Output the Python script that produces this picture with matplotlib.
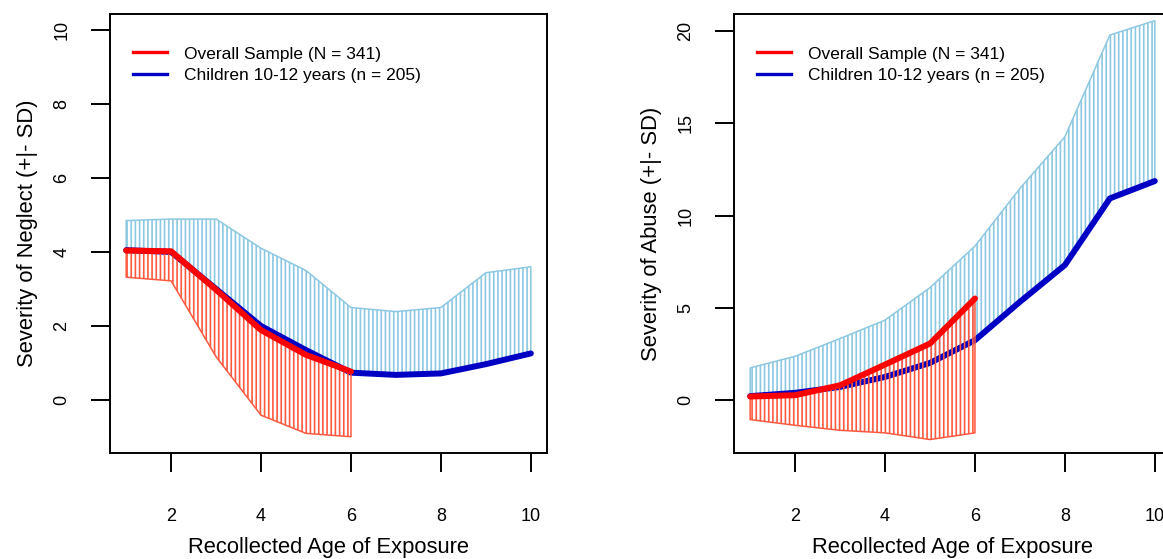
import numpy as np
import matplotlib
matplotlib.use("Agg")
import matplotlib.pyplot as plt

plt.rcParams['font.family'] = ['Liberation Sans', 'DejaVu Sans']
plt.rcParams['hatch.linewidth'] = 1.2

ages = [1, 2, 3, 4, 5, 6, 7, 8, 9, 10]
ages_all = [1, 2, 3, 4, 5, 6]

# Neglect
neg_child_mean = [4.05, 4.0, 3.0, 2.0, 1.35, 0.74, 0.68, 0.72, 0.97, 1.26]
neg_child_upper = [4.85, 4.89, 4.89, 4.1, 3.5, 2.5, 2.39, 2.5, 3.44, 3.6]
neg_all_mean = [4.04, 4.02, 2.98, 1.89, 1.22, 0.77]
neg_all_lower = [3.32, 3.22, 1.17, -0.41, -0.9, -0.99]

# Abuse
ab_child_mean = [0.22, 0.4, 0.72, 1.26, 2.02, 3.25, 5.33, 7.32, 10.93, 11.87]
ab_child_upper = [1.75, 2.38, 3.34, 4.34, 6.1, 8.35, 11.47, 14.27, 19.78, 20.56]
ab_all_mean = [0.2, 0.27, 0.81, 1.93, 3.07, 5.51]
ab_all_lower = [-1.05, -1.36, -1.63, -1.77, -2.13, -1.77]

legend_labels = ["Overall Sample (N = 341)", "Children 10-12 years (n = 205)"]
xlabel = "Recollected Age of Exposure"

LIGHTBLUE = "#8CC8E2"
TOMATO = "#FF5A40"
RED = "#FF0000"
BLUE = "#0000C4"

fig = plt.figure(figsize=(11.63, 5.59), dpi=100)
W, H = 1163, 559
ax1 = fig.add_axes([110 / W, (H - 453) / H, 437 / W, 439 / H])
ax2 = fig.add_axes([734 / W, (H - 453) / H, 437 / W, 439 / H])


def panel(ax, cm, cu, am, al, ylim, yticks, ylabel):
    ax.fill_between(ages, cm, cu, facecolor='none', edgecolor=LIGHTBLUE,
                    hatch='||||', linewidth=1.1, zorder=1)
    ax.plot(ages, cm, color=BLUE, lw=4.3, solid_capstyle='round',
            solid_joinstyle='round', zorder=2)
    ax.fill_between(ages_all, al, am, facecolor='none', edgecolor=TOMATO,
                    hatch='||||', linewidth=1.1, zorder=3)
    ax.plot(ages_all, am, color=RED, lw=4.3, solid_capstyle='round',
            solid_joinstyle='round', zorder=4)
    ax.set_xlim(0.64, 10.36)
    ax.set_ylim(*ylim)
    ax.set_xticks([2, 4, 6, 8, 10])
    ax.set_yticks(yticks)
    for s in ax.spines.values():
        s.set_linewidth(1.4)
    ax.tick_params(axis='both', length=13.5, width=1.4, labelsize=13,
                   color='black')
    ax.tick_params(axis='x', pad=26)
    ax.tick_params(axis='y', pad=15)
    for t in ax.get_yticklabels():
        t.set_rotation(90)
        t.set_va('center')
    ax.set_xlabel(xlabel, fontsize=15.8, labelpad=9)
    ax.set_ylabel(ylabel, fontsize=15.8, labelpad=11)
    h1, = ax.plot([], [], color=RED, lw=2.4)
    h2, = ax.plot([], [], color=BLUE, lw=2.4)
    ax.legend([h1, h2], legend_labels, loc='upper left', frameon=False,
              fontsize=12.5, handlelength=2.0, handletextpad=0.95,
              labelspacing=0.38, borderaxespad=0.0,
              bbox_to_anchor=(0.036, 0.942))


panel(ax1, neg_child_mean, neg_child_upper, neg_all_mean, neg_all_lower,
      (-1.43, 10.43), [0, 2, 4, 6, 8, 10], "Severity of Neglect (+|- SD)")
panel(ax2, ab_child_mean, ab_child_upper, ab_all_mean, ab_all_lower,
      (-2.86, 20.92), [0, 5, 10, 15, 20], "Severity of Abuse (+|- SD)")

fig.savefig("out.png", dpi=100)
